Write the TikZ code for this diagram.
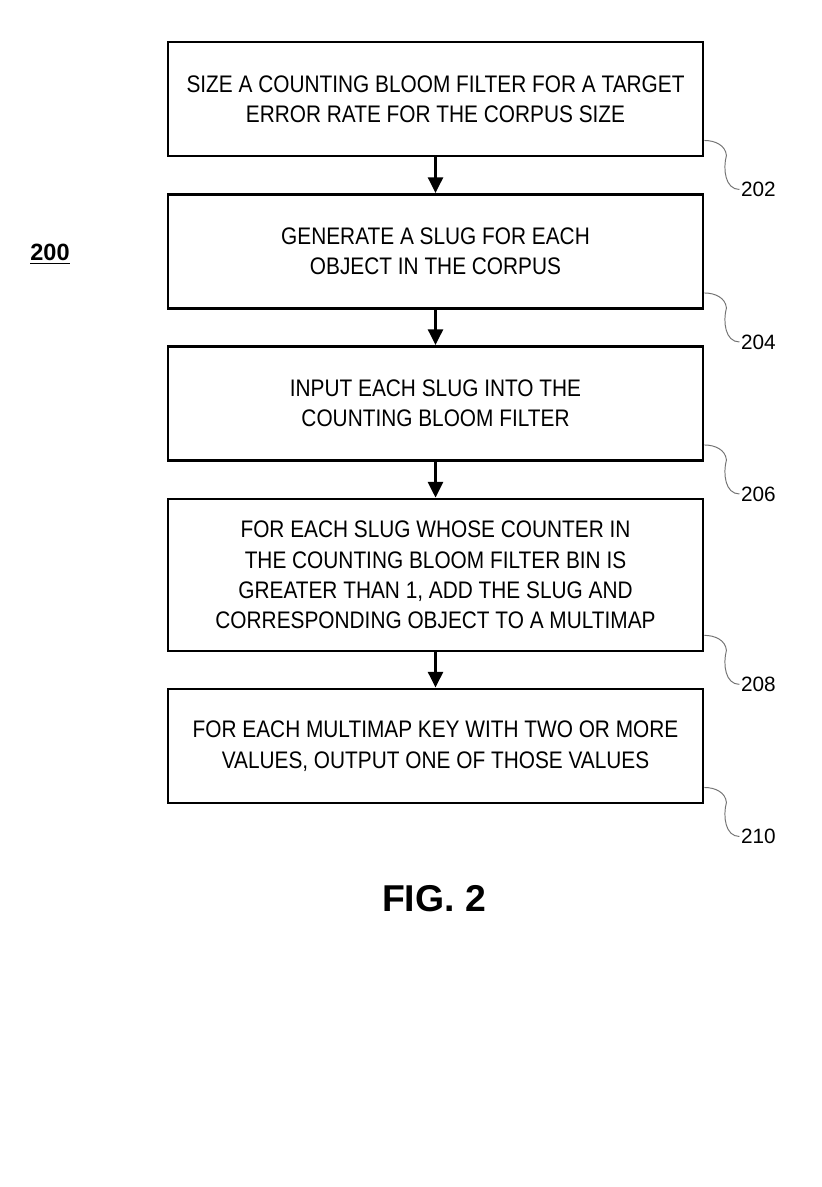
\documentclass[tikz,border=0pt]{standalone}
\usepackage{fontspec}
\setmainfont{Liberation Sans}
\newfontfamily\boxfont[FakeStretch=0.87]{Liberation Sans}
\usetikzlibrary{arrows.meta,calc}

\tikzset{
  stepbox/.style={draw, line width=2pt, minimum width=135.9mm, minimum height=29mm,
    align=center, inner sep=0pt, font=\boxfont\fontsize{17.3}{22}\selectfont},
  flow/.style={line width=2pt, -{Triangle[width=3.8mm,length=4mm]}},
  lead/.style={black!55, line width=0.7pt},
  reflabel/.style={anchor=west, inner sep=1pt, font=\fontsize{15}{18}\selectfont}
}

\begin{document}
\begin{tikzpicture}[x=0.254mm, y=-0.254mm]
\useasboundingbox (0,0) rectangle (821,1187);
\node [font=\bfseries\fontsize{17}{20}\selectfont] (fig) at (50,254) {\underline{200}};
\node [stepbox] (b202) at (435.5,99) {SIZE A COUNTING BLOOM FILTER FOR A TARGET\\ERROR RATE FOR THE CORPUS SIZE};
\node [stepbox] (b204) at (435.5,251.5) {GENERATE A SLUG FOR EACH\\OBJECT IN THE CORPUS};
\node [stepbox] (b206) at (435.5,403.5) {INPUT EACH SLUG INTO THE\\COUNTING BLOOM FILTER};
\node [stepbox, minimum height=38.6mm] (b208) at (435.5,575) {FOR EACH SLUG WHOSE COUNTER IN\\THE COUNTING BLOOM FILTER BIN IS\\GREATER THAN 1, ADD THE SLUG AND\\CORRESPONDING OBJECT TO A MULTIMAP};
\node [stepbox] (b210) at (435.5,746) {FOR EACH MULTIMAP KEY WITH TWO OR MORE\\VALUES, OUTPUT ONE OF THOSE VALUES};
\draw [flow] (b202.south) -- (b204.north);
\draw [flow] (b204.south) -- (b206.north);
\draw [flow] (b206.south) -- (b208.north);
\draw [flow] (b208.south) -- (b210.north);
\foreach \n in {202,204,206,208,210} {
  \node [reflabel] (l\n) at ($(b\n.south east)+(35,32)$) {\n};
  \draw [lead] ($(b\n.south east)+(0,-17)$) to[out=0,in=95] ++(22,15) to[out=-105,in=180] (l\n.west);
}
\node [font=\bfseries\fontsize{27}{32}\selectfont] (cap) at (434,899) {FIG. 2};
\end{tikzpicture}
\end{document}
